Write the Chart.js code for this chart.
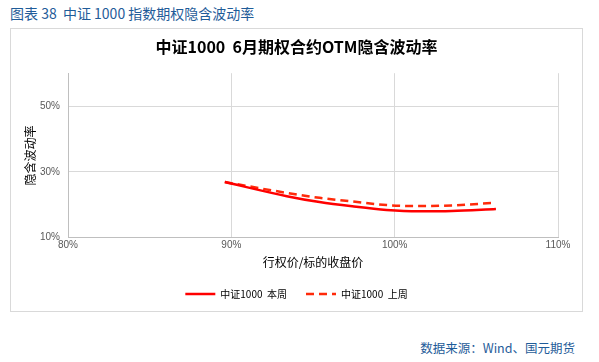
<!DOCTYPE html>
<html>
<head>
<meta charset="utf-8">
<script src="https://cdn.jsdelivr.net/npm/chart.js@4.4.0/dist/chart.umd.min.js"></script>
<style>
    body { margin: 0; background: #fff; width: 599px; height: 362px; position: relative; overflow: hidden; }
    #head { position: absolute; left: 10px; top: 3px; font: 14px "Noto Sans CJK SC", sans-serif; color: #1f5c99; white-space: pre; }
    #frame { position: absolute; left: 10px; top: 28px; width: 571px; height: 282px; border: 1px solid #d9d9d9; }
    #foot { position: absolute; right: 24px; top: 338px; font: 12.5px "Noto Sans CJK SC", sans-serif; color: #1f5c99; }
</style>
</head>
<body>
<div id="head">图表 38  中证 1000 指数期权隐含波动率</div>
<div id="frame"><canvas id="ivChart" width="571" height="282"></canvas></div>
<div id="foot">数据来源：Wind、国元期货</div>
<script>
// data (strike / close in %, implied vol in %)
const strikes = [89.6, 93.4, 95.4, 97.4, 99.5, 101.5, 103.5, 106.2];
const thisWeek = [26.9, 22.6, 20.8, 19.5, 18.4, 18.0, 18.1, 18.7];
const strikesPrev = [89.6, 93.4, 95.4, 97.4, 99.5, 101.5, 103.5, 105.9];
const lastWeek = [26.9, 23.6, 22.1, 21.0, 19.9, 19.6, 19.8, 20.5];
const yTicks = [10, 30, 50];

function toPoints(xs, ys) {
    return xs.map(function (x, i) { return { x: x, y: ys[i] }; });
}

const cjk = '"Noto Sans CJK SC", sans-serif';
const latin = '"Liberation Sans", Arial, sans-serif';

const ivChart = new Chart(document.getElementById('ivChart'), {
    type: 'line',
    data: {
        datasets: [{
            label: '中证1000  本周',
            data: toPoints(strikes, thisWeek),
            borderColor: '#ff0000',
            borderWidth: 2.5,
            pointRadius: 0,
            cubicInterpolationMode: 'monotone'
        },
        {
            label: '中证1000  上周',
            data: toPoints(strikesPrev, lastWeek),
            borderColor: '#ff2a0a',
            borderWidth: 2.5,
            borderDash: [8, 5],
            pointRadius: 0,
            cubicInterpolationMode: 'monotone'
        }]
    },
    options: {
        responsive: false,
        animation: false,
        layout: { padding: { left: 12, right: 12, top: 0, bottom: 2 } },
        plugins: {
            title: {
                display: true,
                text: '中证1000  6月期权合约OTM隐含波动率',
                color: '#000',
                font: { family: cjk, size: 16, weight: 'bold' },
                padding: { top: 8, bottom: 17 }
            },
            legend: {
                position: 'bottom',
                labels: {
                    usePointStyle: true,
                    pointStyle: 'line',
                    pointStyleWidth: 30,
                    color: '#000',
                    font: { family: cjk, size: 10 },
                    padding: 19,
                    // legend items take the dash from the line, not from the points
                    generateLabels: function (chart) {
                        var items = Chart.defaults.plugins.legend.labels.generateLabels(chart);
                        items.forEach(function (item, i) {
                            var ds = chart.data.datasets[i];
                            item.lineDash = ds.borderDash || [];
                            item.lineWidth = ds.borderWidth;
                            item.strokeStyle = ds.borderColor;
                            item.pointStyle = 'line';
                        });
                        return items;
                    }
                }
            },
            tooltip: { enabled: false }
        },
        scales: {
            x: {
                type: 'linear',
                min: 80,
                max: 110,
                ticks: {
                    stepSize: 10,
                    color: '#595959',
                    font: { family: latin, size: 10 },
                    padding: 2,
                    callback: function (v) { return v + '%'; }
                },
                grid: { color: '#d9d9d9', drawTicks: false },
                border: { color: '#bfbfbf' },
                title: {
                    display: true,
                    text: '行权价/标的收盘价',
                    color: '#000',
                    font: { family: cjk, size: 12 },
                    padding: { top: 2, bottom: 0 }
                }
            },
            y: {
                min: 10,
                max: 60,
                afterBuildTicks: function (axis) {
                    axis.ticks = yTicks.map(function (v) { return { value: v }; });
                },
                afterFit: function (axis) { axis.width = 45; },
                ticks: {
                    color: '#595959',
                    font: { family: latin, size: 10 },
                    padding: 8,
                    callback: function (v) { return v + '%'; }
                },
                grid: { color: '#d9d9d9', drawTicks: false },
                border: { color: '#bfbfbf' },
                title: {
                    display: true,
                    text: '隐含波动率',
                    color: '#000',
                    font: { family: cjk, size: 12 },
                    padding: { top: 0, bottom: 0 }
                }
            },
            // empty axis on the right, only to keep the plot clear of the frame
            yRight: {
                position: 'right',
                display: true,
                afterFit: function (axis) { axis.width = 12; },
                ticks: { display: false },
                grid: { display: false, drawTicks: false },
                border: { display: false }
            }
        }
    }
});
</script>
</body>
</html>
